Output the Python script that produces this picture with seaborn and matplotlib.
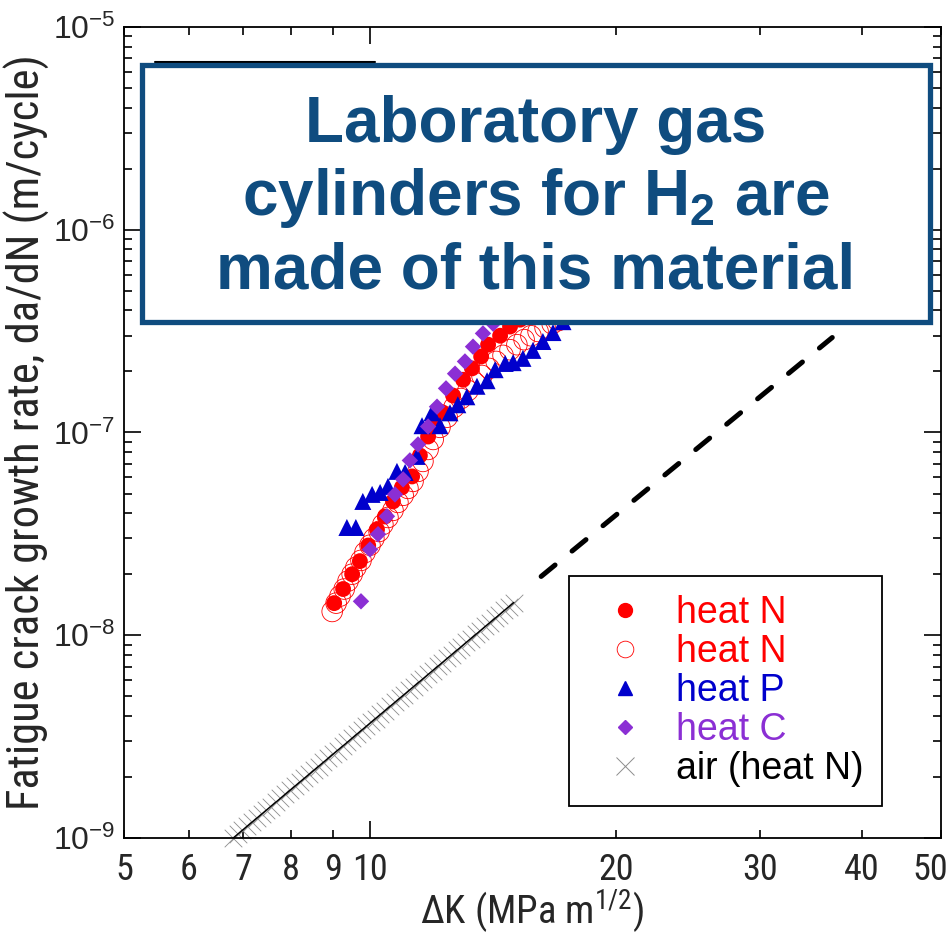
import matplotlib
matplotlib.use('Agg')
import matplotlib.pyplot as plt
from matplotlib import font_manager
from matplotlib.lines import Line2D
from matplotlib.patches import Rectangle
from matplotlib.transforms import ScaledTranslation
from matplotlib.ticker import FixedLocator, FixedFormatter, LogLocator, NullFormatter
import pandas as pd
import seaborn as sns

# heat N (hydrogen), filled circles
heatN_dk = [9.04, 9.27, 9.51, 9.72, 9.95, 10.2, 10.43, 10.67, 10.94, 11.26, 11.51, 11.78,
            12.0, 12.25, 12.64, 13.0, 13.33, 13.68, 13.95, 14.43, 14.84, 15.27, 16.0, 17.0]
heatN_rate = [1.44e-8, 1.69e-8, 2.0e-8, 2.32e-8, 2.77e-8, 3.32e-8, 3.85e-8, 4.57e-8, 5.36e-8,
              6.07e-8, 7.7e-8, 9.55e-8, 1.1e-7, 1.26e-7, 1.52e-7, 1.82e-7, 2.07e-7, 2.37e-7,
              2.71e-7, 3.0e-7, 3.33e-7, 3.6e-7, 4.2e-7, 5.0e-7]

# heat N (hydrogen), open circles
heatN2_dk = [8.99, 9.09, 9.19, 9.30, 9.40, 9.51, 9.61, 9.75, 9.86, 10.0, 10.11, 10.26, 10.37,
             10.52, 10.67, 10.82, 10.98, 11.13, 11.29, 11.45, 11.61, 11.78, 11.95, 12.18, 12.43,
             12.67, 12.92, 13.18, 13.44, 13.71, 13.99, 14.27, 14.55, 14.84, 15.13, 15.44, 15.74,
             16.06, 16.38, 16.71, 16.99]
heatN2_rate = [1.31e-8, 1.44e-8, 1.56e-8, 1.69e-8, 1.85e-8, 2.0e-8, 2.16e-8, 2.34e-8, 2.56e-8,
               2.78e-8, 3.0e-8, 3.25e-8, 3.52e-8, 3.81e-8, 4.13e-8, 4.52e-8, 4.9e-8, 5.3e-8,
               5.74e-8, 6.43e-8, 7.2e-8, 8.25e-8, 9.24e-8, 1.06e-7, 1.19e-7, 1.33e-7, 1.47e-7,
               1.61e-7, 1.76e-7, 1.91e-7, 2.07e-7, 2.24e-7, 2.4e-7, 2.56e-7, 2.71e-7, 2.87e-7,
               3.0e-7, 3.15e-7, 3.29e-7, 3.44e-7, 3.56e-7]

# heat P
heatP_dk = [9.37, 9.61, 9.80, 10.06, 10.29, 10.52, 10.79, 11.04, 11.42, 11.58, 11.91, 12.18,
            12.53, 12.81, 13.14, 13.52, 13.91, 14.23, 14.64, 14.97, 15.39, 15.83, 16.28, 16.75, 17.23]
heatP_rate = [3.4e-8, 3.4e-8, 4.57e-8, 4.95e-8, 5.06e-8, 5.42e-8, 6.43e-8, 6.35e-8, 7.62e-8,
              1.08e-7, 1.25e-7, 1.08e-7, 1.25e-7, 1.37e-7, 1.5e-7, 1.69e-7, 1.8e-7, 2.04e-7,
              2.19e-7, 2.21e-7, 2.32e-7, 2.54e-7, 2.81e-7, 3.11e-7, 3.52e-7]

# heat C
heatC_dk = [9.75, 10.0, 10.23, 10.49, 10.73, 10.98, 11.19, 11.45, 11.78, 12.08, 12.39, 12.71,
            13.07, 13.37, 13.75, 14.15]
heatC_rate = [1.47e-8, 2.65e-8, 3.15e-8, 3.86e-8, 4.95e-8, 5.87e-8, 7.28e-8, 8.73e-8, 1.07e-7,
              1.34e-7, 1.65e-7, 1.95e-7, 2.24e-7, 2.65e-7, 3.08e-7, 3.44e-7]

# air (heat N)
air_dk = [6.80, 6.89, 6.98, 7.08, 7.17, 7.27, 7.37, 7.46, 7.56, 7.67, 7.77, 7.88, 7.99, 8.09,
          8.20, 8.31, 8.43, 8.54, 8.66, 8.77, 8.89, 9.01, 9.13, 9.26, 9.38, 9.51, 9.64, 9.77,
          9.90, 10.03, 10.17, 10.30, 10.44, 10.58, 10.73, 10.87, 11.02, 11.17, 11.32, 11.47,
          11.62, 11.78, 11.94, 12.10, 12.26, 12.43, 12.60, 12.77, 12.94, 13.11, 13.29, 13.47,
          13.65, 13.84, 14.02, 14.21, 14.40, 14.60, 14.80, 15.00]
air_rate = [1.00e-9, 1.05e-9, 1.10e-9, 1.14e-9, 1.20e-9, 1.26e-9, 1.31e-9, 1.37e-9, 1.43e-9,
            1.51e-9, 1.57e-9, 1.64e-9, 1.73e-9, 1.80e-9, 1.88e-9, 1.98e-9, 2.06e-9, 2.17e-9,
            2.25e-9, 2.38e-9, 2.47e-9, 2.60e-9, 2.70e-9, 2.85e-9, 2.96e-9, 3.11e-9, 3.24e-9,
            3.41e-9, 3.55e-9, 3.73e-9, 3.88e-9, 4.08e-9, 4.25e-9, 4.47e-9, 4.66e-9, 4.90e-9,
            5.09e-9, 5.37e-9, 5.57e-9, 5.87e-9, 6.10e-9, 6.43e-9, 6.69e-9, 7.04e-9, 7.32e-9,
            7.70e-9, 8.02e-9, 8.44e-9, 8.77e-9, 9.24e-9, 9.60e-9, 10.1e-9, 10.5e-9, 11.1e-9,
            11.5e-9, 12.1e-9, 12.6e-9, 13.3e-9, 13.8e-9, 14.5e-9]

# Paris fit to the air data: solid over the data, dashed extrapolation
fit_dk = [6.8, 15.0]
fit_rate = [1.0e-9, 1.45e-8]
extrap_dk = [16.2, 36.8]
extrap_rate = [1.95e-8, 2.94e-7]

# stray black line at the top of the frame
top_dk = [5.46, 10.14]
top_rate = [6.73e-6, 6.73e-6]

xtick_vals = [5, 6, 7, 8, 9, 10, 20, 30, 40, 50]
xtick_labels = ['5', '6', '7', '8', '9', '10', '20', '30', '40', '50']
legend_labels = ['heat N', 'heat N', 'heat P', 'heat C', 'air (heat N)']

RED = '#FF0000'
BLUE = '#0000CC'
PURPLE = '#8B2FD4'
GRAY = '#8C8C8C'
BOXBLUE = '#0F4C7F'


def pick_font(names):
    for n in names:
        try:
            font_manager.findfont(font_manager.FontProperties(family=n),
                                  fallback_to_default=False)
            return n
        except ValueError:
            pass
    return None


sns.set_style('ticks')
plt.rcParams['font.family'] = ['Liberation Sans', 'DejaVu Sans']
plt.rcParams['mathtext.default'] = 'regular'
plt.rcParams['mathtext.fontset'] = 'custom'
plt.rcParams['mathtext.rm'] = 'Liberation Sans'
plt.rcParams['mathtext.bf'] = 'Liberation Sans:bold'
plt.rcParams['mathtext.it'] = 'Liberation Sans:italic'

narrow_name = pick_font(['Liberation Sans Narrow', 'DejaVu Sans Condensed', 'Roboto Condensed',
                         'Open Sans Condensed', 'Noto Sans Condensed'])
if narrow_name:
    narrow = [narrow_name, 'DejaVu Sans']
    xt_size, xl_size, yl_size = 26, 28, 32
else:
    narrow = ['Liberation Sans', 'DejaVu Sans']
    xt_size, xl_size, yl_size = 22, 24, 27

fig = plt.figure(figsize=(9.49, 9.36), dpi=100)
ax = fig.add_axes([0.1307, 0.1047, 0.8609, 0.8665])
ax.set_xscale('log')
ax.set_yscale('log')

df_air = pd.DataFrame({'dk': air_dk, 'rate': air_rate})
df_n = pd.DataFrame({'dk': heatN_dk, 'rate': heatN_rate})
df_n2 = pd.DataFrame({'dk': heatN2_dk, 'rate': heatN2_rate})
df_p = pd.DataFrame({'dk': heatP_dk, 'rate': heatP_rate})
df_c = pd.DataFrame({'dk': heatC_dk, 'rate': heatC_rate})

ax.plot(fit_dk, fit_rate, color='black', lw=1.0, zorder=3)
ax.plot(extrap_dk, extrap_rate, color='black', lw=3.6, ls=(0, (3.6, 4.4)),
        dash_capstyle='round', zorder=3)
ax.plot(top_dk, top_rate, color='black', lw=1.5, zorder=4)

sns.scatterplot(data=df_air, x='dk', y='rate', ax=ax, marker='x', color=GRAY, s=160,
                linewidth=0.6, zorder=2, clip_on=False)
sns.scatterplot(data=df_n2, x='dk', y='rate', ax=ax, marker='o', s=220, facecolors='none',
                edgecolors=RED, linewidth=0.6, zorder=3)
sns.scatterplot(data=df_n, x='dk', y='rate', ax=ax, marker='o', s=130, color=RED,
                edgecolor='none', zorder=4)
sns.scatterplot(data=df_p, x='dk', y='rate', ax=ax, marker='^', s=150, color=BLUE,
                edgecolor='none', zorder=4)
sns.scatterplot(data=df_c, x='dk', y='rate', ax=ax, marker='D', s=70, color=PURPLE,
                edgecolor='none', zorder=4)

ax.set_xlim(5, 50)
ax.set_ylim(1e-9, 1e-5)

# x ticks: only 10 gets the long tick
ax.xaxis.set_major_locator(FixedLocator([10]))
ax.xaxis.set_major_formatter(FixedFormatter(['10']))
ax.xaxis.set_minor_locator(FixedLocator([v for v in xtick_vals if v != 10]))
ax.xaxis.set_minor_formatter(FixedFormatter([l for l in xtick_labels if l != '10']))
ax.yaxis.set_major_locator(LogLocator(base=10, numticks=10))
ax.yaxis.set_minor_locator(LogLocator(base=10, subs=range(2, 10), numticks=10))
ax.yaxis.set_minor_formatter(NullFormatter())

ax.tick_params(which='both', direction='in', top=True, right=True, width=1.2, color='black')
ax.tick_params(which='major', length=12)
ax.tick_params(which='minor', length=6)
ax.tick_params(axis='x', which='both', labelsize=xt_size, pad=10)
ax.tick_params(axis='y', which='both', labelsize=23, pad=6)
for lab in ax.get_xticklabels(which='both'):
    lab.set_family(narrow)
for sp in ax.spines.values():
    sp.set_linewidth(1.3)
    sp.set_color('black')
    sp.set_visible(True)

# the last label sits at the right edge of the figure; nudge it inward a little
fig.canvas.draw()
last_tick = ax.xaxis.get_minor_ticks()[-1]
last_tick.label1.set_transform(last_tick.label1.get_transform()
                               + ScaledTranslation(-0.11, 0, fig.dpi_scale_trans))

ax.set_xlabel('ΔK (MPa m$^{1/2}$)', fontsize=xl_size, family=narrow, labelpad=0)
ax.set_ylabel('Fatigue crack growth rate, da/dN (m/cycle)', fontsize=yl_size, family=narrow,
              labelpad=2)

# overlay box with the note
ax.add_patch(Rectangle((0.022, 0.6363), 0.9645, 0.3167, transform=ax.transAxes,
                       facecolor='white', edgecolor=BOXBLUE, lw=3.8, zorder=6))
ax.text(0.504, 0.789, 'Laboratory gas\ncylinders for H$_\\mathbf{2}$ are\nmade of this material',
        transform=ax.transAxes, ha='center', va='center', fontsize=46, fontweight='bold',
        color=BOXBLUE, linespacing=1.24, zorder=7)

handles = [
    Line2D([], [], ls='none', marker='o', color=RED, ms=10),
    Line2D([], [], ls='none', marker='o', mfc='none', mec=RED, mew=0.6, ms=12),
    Line2D([], [], ls='none', marker='^', color=BLUE, ms=10),
    Line2D([], [], ls='none', marker='D', color=PURPLE, ms=7.5),
    Line2D([], [], ls='none', marker='x', color=GRAY, mew=0.7, ms=13),
]
leg = ax.legend(handles, legend_labels, loc='lower right', bbox_to_anchor=(0.928, 0.0395),
                prop={'family': 'Liberation Sans', 'size': 27},
                labelcolor=[RED, RED, BLUE, PURPLE, 'black'], frameon=True, fancybox=False,
                edgecolor='black', framealpha=1, handlelength=2.0, handletextpad=0.35,
                labelspacing=0.08, borderpad=0.5, borderaxespad=0)
leg.get_frame().set_linewidth(1.3)
leg.set_zorder(8)

fig.savefig('out.png', dpi=100)
